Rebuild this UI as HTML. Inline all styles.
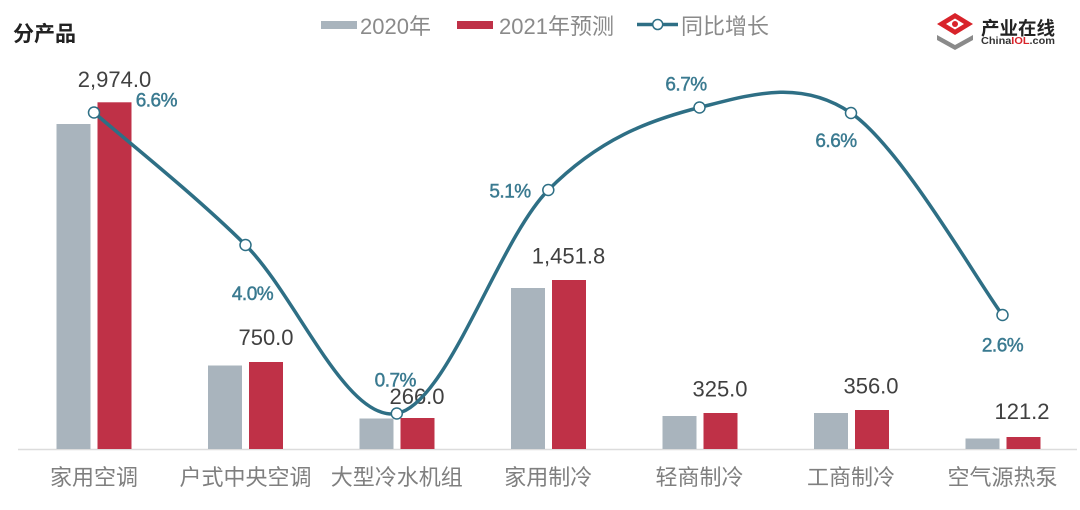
<!DOCTYPE html>
<html><head><meta charset="utf-8"><style>
html,body{margin:0;padding:0;background:#fff;}
svg{display:block;}
text{font-family:"Liberation Sans","Noto Sans CJK SC",sans-serif;}
.cj{font-family:"Liberation Sans","Noto Sans CJK SC",sans-serif;}
</style></head><body>
<svg width="1080" height="510" viewBox="0 0 1080 510" xmlns="http://www.w3.org/2000/svg">
<rect width="1080" height="510" fill="#fff"/>
<!-- title -->
<text x="13" y="41" font-size="21" font-weight="bold" fill="#222" class="cj">分产品</text>
<!-- legend -->
<rect x="321" y="21" width="36" height="8" fill="#A9B4BD"/>
<text x="360" y="34" font-size="22" fill="#8a8a8a" class="cj">2020年</text>
<rect x="457" y="21" width="36" height="8" fill="#BF3147"/>
<text x="499" y="34" font-size="22" fill="#8a8a8a" class="cj">2021年预测</text>
<line x1="637" y1="24.5" x2="678" y2="24.5" stroke="#2E6F85" stroke-width="3.5"/>
<circle cx="657.7" cy="24.5" r="5" fill="#fff" stroke="#2E6F85" stroke-width="1.5"/>
<text x="681" y="34" font-size="22" fill="#8a8a8a" class="cj">同比增长</text>
<!-- logo -->
<polygon points="937,40 955,50 973,40 973,35 955,45 937,35" fill="#8a8a8a"/>
<polygon points="937,24 955,13 973,24 955,35" fill="#D8232A"/>
<polygon points="946,24 955,18.5 964,24 955,29.5" fill="#fff"/>
<circle cx="955" cy="24" r="3" fill="#D8232A"/>
<text x="981" y="35" font-size="18.5" font-weight="bold" fill="#222" class="cj">产业在线</text>
<text x="981" y="44" font-size="10.5" font-weight="bold" fill="#333" textLength="74" lengthAdjust="spacingAndGlyphs">China<tspan fill="#D8232A">IOL</tspan>.com</text>
<!-- axis -->
<line x1="18" y1="449.5" x2="1077" y2="449.5" stroke="#dcdcdc" stroke-width="1.5"/>
<!-- bars -->
<g fill="#A9B4BD">
<rect x="56.5" y="124" width="34" height="325"/>
<rect x="208" y="365.5" width="34" height="83.5"/>
<rect x="359.5" y="418.5" width="34" height="30.5"/>
<rect x="511" y="288" width="34" height="161"/>
<rect x="662.5" y="416" width="34" height="33"/>
<rect x="814" y="413" width="34" height="36"/>
<rect x="965.5" y="438.5" width="34" height="10.5"/>
</g>
<g fill="#BF3147">
<rect x="97.5" y="102.3" width="34" height="346.7"/>
<rect x="249" y="362" width="34" height="87"/>
<rect x="400.5" y="418" width="34" height="31"/>
<rect x="552" y="280" width="34" height="169"/>
<rect x="703.5" y="413" width="34" height="36"/>
<rect x="855" y="410" width="34" height="39"/>
<rect x="1006.5" y="437" width="34" height="12"/>
</g>
<!-- value labels -->
<g font-size="22" fill="#404040" text-anchor="middle">
<text x="114.5" y="87">2,974.0</text>
<text x="266" y="345">750.0</text>
<text x="417" y="404">266.0</text>
<text x="568.5" y="263.5">1,451.8</text>
<text x="720" y="396.5">325.0</text>
<text x="871" y="393.5">356.0</text>
<text x="1022" y="419">121.2</text>
</g>
<!-- growth line -->
<path d="M94,112.5 C119.25,134.6 195,194.8 245.5,245 C296,295.2 346.3,422.7 396.8,413.5 C447.3,404.3 497.9,241 548.3,190 C598.8,139 649,120.3 699.5,107.5 C750,94.7 800.5,78.4 851,113 C901.5,147.6 977.3,281.3 1002.5,315" fill="none" stroke="#2E6F85" stroke-width="3.5" stroke-linecap="round"/>
<g fill="#fff" stroke="#2E6F85" stroke-width="1.5">
<circle cx="94" cy="112.5" r="5.5"/>
<circle cx="245.5" cy="245" r="5.5"/>
<circle cx="396.8" cy="413.5" r="5.5"/>
<circle cx="548.3" cy="190" r="5.5"/>
<circle cx="699.5" cy="107.5" r="5.5"/>
<circle cx="851" cy="113" r="5.5"/>
<circle cx="1002.5" cy="315" r="5.5"/>
</g>
<!-- percent labels -->
<g font-size="19" fill="#3A7A90" stroke="#3A7A90" stroke-width="0.45" letter-spacing="-0.5">
<text x="135.7" y="106.7">6.6%</text>
<text x="252.5" y="300" text-anchor="middle">4.0%</text>
<text x="395.3" y="386.5" text-anchor="middle">0.7%</text>
<text x="510" y="197.3" text-anchor="middle">5.1%</text>
<text x="686" y="90.7" text-anchor="middle">6.7%</text>
<text x="836" y="147" text-anchor="middle">6.6%</text>
<text x="1002.5" y="351.7" text-anchor="middle">2.6%</text>
</g>
<!-- category labels -->
<g font-size="22" fill="#7f7f7f" text-anchor="middle" class="cj">
<text x="94" y="485">家用空调</text>
<text x="245.5" y="485">户式中央空调</text>
<text x="396.8" y="485">大型冷水机组</text>
<text x="548.3" y="485">家用制冷</text>
<text x="699.5" y="485">轻商制冷</text>
<text x="851" y="485">工商制冷</text>
<text x="1002.5" y="485">空气源热泵</text>
</g>
</svg>
</body></html>
